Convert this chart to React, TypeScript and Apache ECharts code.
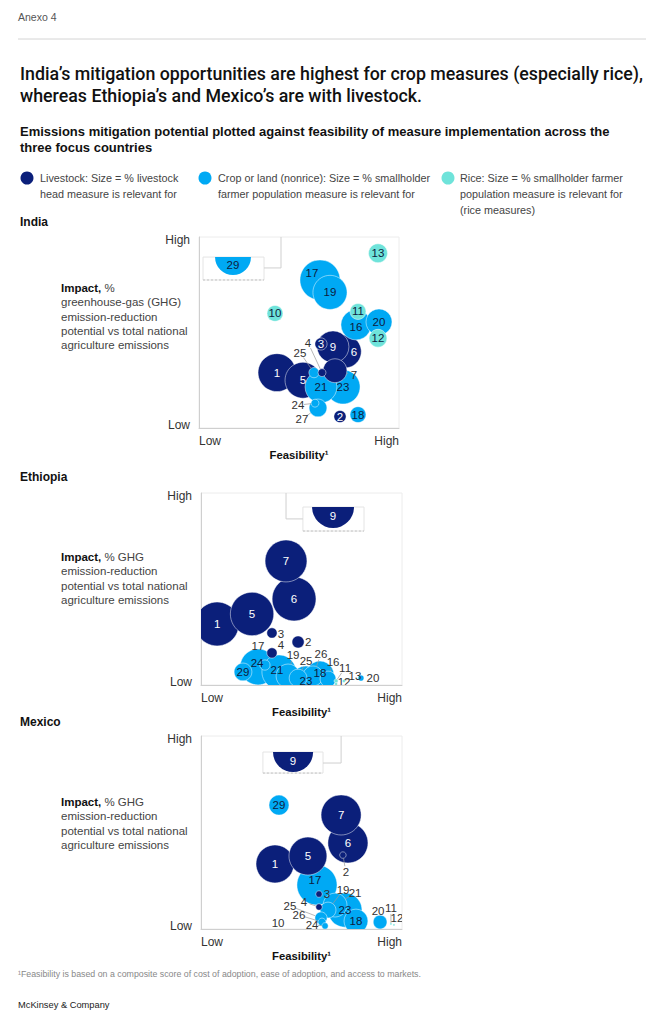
import React, { useEffect, useRef } from "react";
import * as echarts from "echarts";

const FONT = '"Liberation Sans", Arial, Helvetica, sans-serif';
const TITLE_FONT = 'Roboto, "Liberation Sans", Arial, sans-serif';
const NAVY = "#0B1F7A";
const CYAN = "#00A9F4";
const AQUA = "#6FE3DA";
const TEXT_DARK = "#0D1B3E";

// ---------- data ----------
const countries = ["India", "Ethiopia", "Mexico"];
const feasibilityTicks = ["Low", "High"];
const impactTicks = ["Low", "High"];
const livestockMeasures = [1, 2, 3, 4, 5, 6, 7, 8, 9];
const riceMeasures = [10, 11, 12, 13];

// India
const indiaIds = [1, 2, 3, 4, 5, 6, 7, 9, 10, 11, 12, 13, 16, 17, 18, 19, 20, 21, 23, 24, 25, 27];
const indiaFeasibility = [39, 70.5, 61, 61.5, 52, 73, 68, 67, 38, 79.5, 89.5, 89.5, 78.5, 60.5, 79.5, 65.5, 90, 61, 72, 58, 57.5, 59.5];
const indiaImpact = [29, 6, 44, 29, 25, 40, 30, 42.5, 60, 61, 47, 91.5, 54, 77.5, 7, 71, 55.5, 21.5, 21.5, 13, 29, 10.5];
const indiaShare = [68, 7, 7, 3, 61, 50, 27, 48, 12, 12, 15, 17, 43, 76, 12, 55, 32, 48, 55, 3, 5, 15];

// Ethiopia
const ethiopiaIds = [1, 2, 3, 4, 5, 6, 7, 11, 12, 13, 16, 17, 18, 19, 20, 21, 23, 24, 25, 26, 29];
const ethiopiaFeasibility = [8, 48.3, 35.3, 35.3, 25.4, 46.3, 42.3, 67.2, 67.2, 71.1, 63.2, 31.8, 59.2, 43.3, 79.6, 38.8, 52.2, 28.4, 48.3, 55.7, 20.9];
const ethiopiaImpact = [31.8, 22.4, 27.1, 16.7, 37, 44.8, 64.6, 2.1, 0.5, 2.1, 3.1, 10.4, 5.2, 4.7, 3.6, 6.8, 1.6, 9.4, 3.6, 4.7, 6.8];
const ethiopiaShare = [91, 7, 5, 5, 89, 91, 83, 0.8, 0.4, 0.4, 12, 5, 37, 27, 1.7, 55, 48, 61, 15, 19, 15];

// Mexico
const mexicoIds = [1, 2, 3, 4, 5, 6, 7, 10, 11, 12, 17, 18, 19, 20, 21, 23, 24, 25, 26, 29];
const mexicoFeasibility = [36.8, 70.6, 58.7, 58.7, 53.2, 73.1, 69.7, 47.3, 94.5, 96, 57.7, 77.1, 63.2, 89.1, 66.7, 71.6, 61.7, 59.7, 60.2, 38.8];
const mexicoImpact = [33.7, 38.3, 18.1, 11.4, 37.8, 44.6, 59.1, 0.5, 2.6, 2.1, 22.8, 4.1, 9.8, 3.6, 12.4, 9.8, 1.6, 5.7, 3.6, 64.2];
const mexicoShare = [68, 2, 2, 2, 68, 76, 76, 0.1, 0.2, 0.2, 76, 27, 12, 9, 27, 55, 2, 7, 3, 19];

// measures beyond the impact scale (shown in an inset)
const offScaleIds = [29, 9, 9];
const offScaleFeasibility = [17, 65.7, 45.8];
const offScaleShare = [61, 83, 76];

// ---------- layout ----------
const GRIDS = [
  { left: 199, top: 237, width: 200, height: 191 },
  { left: 201, top: 493, width: 201, height: 192 },
  { left: 201, top: 736, width: 201, height: 193 },
];
const INSETS = [
  { x0: 2, x1: 32.5, yTop: 89.5, yBottom: 77.5, elbow: [[32.5, 83.8], [41, 83.8], [41, 100]] },
  { x0: 50.7, x1: 81.1, yTop: 92.7, yBottom: 80.2, elbow: [[50.7, 86.5], [42.3, 86.5], [42.3, 100]] },
  { x0: 30.8, x1: 60.7, yTop: 91.7, yBottom: 80.8, elbow: [[60.7, 86], [69.7, 86], [69.7, 100]] },
];
// label offsets [dx, dy, mode] mode 0 = inside, 1 = outside with leader, 2 = outside no leader
const LABELS: Record<number, [number, number, number]>[] = [
  {
    4: [-14, -30, 1], 25: [-14, -20, 1], 7: [19, 4, 1], 24: [-17, 2, 1], 27: [-16, 11, 1],
    6: [9, 0, 0], 17: [-8, -7, 0], 16: [0, 2, 0],
  },
  {
    2: [10, 0, 2], 3: [9, 1, 2], 4: [9, -8, 2], 17: [-7, -19, 2], 19: [5, -21, 1], 25: [8, -17, 1],
    26: [8, -22, 1], 16: [5, -17, 1], 11: [9, -13, 1], 12: [8, -2, 2], 13: [11, -5, 1], 20: [12, 0, 2],
    24: [-1, -4, 0], 21: [-2, -2, 0], 18: [0, -2, 0], 23: [0, -1, 0],
  },
  {
    2: [3, 17, 1], 3: [8, 0, 2], 4: [-15, -5, 1], 17: [-2, -5, 0], 19: [15, -20, 1], 21: [20, -12, 1],
    25: [-31, -12, 1], 26: [-23, -7, 1], 24: [-13, -1, 1], 10: [-18, -5, 2], 20: [-2, -11, 2],
    11: [0, -16, 1], 12: [3, -7, 2],
  },
];

const radiusOf = (share: number) => 2.3 * Math.sqrt(share);
const colorOf = (id: number) =>
  livestockMeasures.includes(id) ? NAVY : riceMeasures.includes(id) ? AQUA : CYAN;
const textColorOf = (id: number) => (livestockMeasures.includes(id) ? "#ffffff" : TEXT_DARK);

function bubbleRender(ids: number[], labels: Record<number, [number, number, number]>) {
  return (params: any, api: any) => {
    const i = api.value(3);
    const id = ids[i];
    const c = api.coord([api.value(0), api.value(1)]);
    const cx = c[0], cy = c[1];
    const r = radiusOf(api.value(2));
    const off = labels[id] || [0, 0, 0];
    const children: any[] = [
      {
        type: "circle",
        shape: { cx, cy, r },
        style: { fill: colorOf(id), stroke: "rgba(255,255,255,0.6)", lineWidth: 0.8 },
        z2: 1,
      },
    ];
    const lx = cx + off[0], ly = cy + off[1];
    if (off[2] === 1) {
      const dx = cx - lx, dy = cy - ly;
      const d = Math.hypot(dx, dy);
      if (d > r + 6) {
        const ux = dx / d, uy = dy / d;
        children.push({
          type: "line",
          shape: { x1: lx + ux * 6, y1: ly + uy * 6, x2: cx - ux * r, y2: cy - uy * r },
          style: { stroke: "#9a9a9a", lineWidth: 0.7 },
          z2: 50,
        });
      }
    }
    const ext = off[2] > 0;
    children.push({
      type: "text",
      x: lx,
      y: ly,
      style: {
        text: String(id),
        fill: ext ? "#333333" : textColorOf(id),
        fontSize: 11.5,
        fontFamily: FONT,
        align: "center",
        verticalAlign: "middle",
        textAlign: "center",
        textVerticalAlign: "middle",
      },
      z2: 100,
    });
    return { type: "group", children };
  };
}

function insetRender(k: number) {
  return (params: any, api: any) => {
    const L = INSETS[k];
    const id = offScaleIds[k];
    const tl = api.coord([L.x0, L.yTop]);
    const br = api.coord([L.x1, L.yBottom]);
    const c = api.coord([api.value(0), L.yTop]);
    const r = radiusOf(api.value(2));
    const elbow = L.elbow.map((p) => api.coord(p));
    return {
      type: "group",
      children: [
        {
          type: "rect",
          shape: { x: tl[0], y: tl[1], width: br[0] - tl[0], height: br[1] - tl[1] },
          style: { fill: "#ffffff", stroke: "#e4e4e4", lineWidth: 1 },
          z2: 0,
        },
        {
          type: "line",
          shape: { x1: tl[0], y1: br[1], x2: br[0], y2: br[1] },
          style: { stroke: "#c4c4c4", lineWidth: 1, lineDash: [2, 2] },
          z2: 1,
        },
        {
          type: "polyline",
          shape: { points: elbow },
          style: { stroke: "#cfcfcf", lineWidth: 1, fill: null },
          z2: 1,
        },
        {
          type: "sector",
          shape: { cx: c[0], cy: c[1], r0: 0, r, startAngle: 0, endAngle: Math.PI, clockwise: true },
          style: { fill: colorOf(id) },
          z2: 2,
        },
        {
          type: "text",
          x: c[0],
          y: c[1] + r * 0.45,
          style: {
            text: String(id),
            fill: textColorOf(id),
            fontSize: 11.5,
            fontFamily: FONT,
            align: "center",
            verticalAlign: "middle",
            textAlign: "center",
            textVerticalAlign: "middle",
          },
          z2: 100,
        },
      ],
    };
  };
}

const COUNTRY_DATA = [
  { ids: indiaIds, x: indiaFeasibility, y: indiaImpact, s: indiaShare },
  { ids: ethiopiaIds, x: ethiopiaFeasibility, y: ethiopiaImpact, s: ethiopiaShare },
  { ids: mexicoIds, x: mexicoFeasibility, y: mexicoImpact, s: mexicoShare },
];

function txt(x: number, y: number, text: string, o: any = {}) {
  return {
    type: "text",
    x,
    y,
    silent: true,
    style: {
      text,
      fill: o.fill || "#222",
      fontSize: o.fontSize || 10,
      fontWeight: o.fontWeight || "normal",
      fontFamily: o.fontFamily || FONT,
      lineHeight: o.lineHeight,
      rich: o.rich,
      align: o.align || "left",
      textAlign: o.align || "left",
      verticalAlign: o.va || "middle",
      textVerticalAlign: o.va || "middle",
    },
  };
}

const impactRich = {
  b: { fontWeight: "bold", fontSize: 11.5, fontFamily: FONT, fill: "#111", lineHeight: 14.3 },
};
const IMPACT_TEXT = [
  "{b|Impact,} %\ngreenhouse-gas (GHG)\nemission-reduction\npotential vs total national\nagriculture emissions",
  "{b|Impact,} % GHG\nemission-reduction\npotential vs total national\nagriculture emissions",
  "{b|Impact,} % GHG\nemission-reduction\npotential vs total national\nagriculture emissions",
];
const IMPACT_TOP = [281, 550, 795];
const COUNTRY_Y = [222, 477, 722];

function buildOption() {
  const graphic: any[] = [
    txt(18, 17, "Anexo 4", { fill: "#555", fontSize: 10.5 }),
    { type: "line", shape: { x1: 18, y1: 39, x2: 646, y2: 39 }, style: { stroke: "#d4d4d4", lineWidth: 1 } },
    txt(20, 73, "India’s mitigation opportunities are highest for crop measures (especially rice),", { fontSize: 17.8, fontWeight: 500, fill: "#111", fontFamily: TITLE_FONT }),
    txt(20, 95, "whereas Ethiopia’s and Mexico’s are with livestock.", { fontSize: 17.8, fontWeight: 500, fill: "#111", fontFamily: TITLE_FONT }),
    txt(20, 131, "Emissions mitigation potential plotted against feasibility of measure implementation across the", { fontSize: 13, fontWeight: "bold", fill: "#111" }),
    txt(20, 147, "three focus countries", { fontSize: 13, fontWeight: "bold", fill: "#111" }),
    { type: "circle", shape: { cx: 27, cy: 178, r: 6.5 }, style: { fill: NAVY } },
    { type: "circle", shape: { cx: 205, cy: 178, r: 6.5 }, style: { fill: CYAN } },
    { type: "circle", shape: { cx: 448, cy: 178, r: 6.5 }, style: { fill: AQUA } },
    txt(40, 170, "Livestock: Size = % livestock\nhead measure is relevant for", { va: "top", lineHeight: 16, fill: "#444", fontSize: 10.8 }),
    txt(218, 170, "Crop or land (nonrice): Size = % smallholder\nfarmer population measure is relevant for", { va: "top", lineHeight: 16, fill: "#444", fontSize: 10.8 }),
    txt(460, 170, "Rice: Size = % smallholder farmer\npopulation measure is relevant for\n(rice measures)", { va: "top", lineHeight: 16, fill: "#444", fontSize: 10.8 }),
    txt(18, 974, "¹Feasibility is based on a composite score of cost of adoption, ease of adoption, and access to markets.", { fontSize: 8.8, fill: "#888" }),
    txt(18, 1005, "McKinsey & Company", { fontSize: 9.3, fill: "#222" }),
  ];
  countries.forEach((name, k) => {
    graphic.push(txt(20, COUNTRY_Y[k], name, { fontSize: 12, fontWeight: "bold", fill: "#111" }));
    graphic.push(txt(61, IMPACT_TOP[k], IMPACT_TEXT[k], { va: "top", lineHeight: 14.3, rich: impactRich, fill: "#444", fontSize: 11.5 }));
  });

  const series: any[] = [];
  COUNTRY_DATA.forEach((cd, k) => {
    const data = cd.ids
      .map((id, i) => [cd.x[i], cd.y[i], cd.s[i], i])
      .sort((a, b) => b[2] - a[2]);
    series.push({
      type: "custom",
      xAxisIndex: k,
      yAxisIndex: k,
      clip: true,
      silent: true,
      renderItem: bubbleRender(cd.ids, LABELS[k]),
      data,
      z: 3,
    });
    series.push({
      type: "custom",
      xAxisIndex: k,
      yAxisIndex: k,
      clip: true,
      silent: true,
      renderItem: insetRender(k),
      data: [[offScaleFeasibility[k], INSETS[k].yTop, offScaleShare[k], k]],
      z: 2,
    });
  });

  return {
    animation: false,
    backgroundColor: "#ffffff",
    textStyle: { fontFamily: FONT },
    grid: GRIDS.map((g) => ({ ...g, show: true, borderColor: "#ececec", borderWidth: 1, backgroundColor: "transparent" })),
    xAxis: GRIDS.map((g, k) => ({
      gridIndex: k,
      type: "value",
      min: 0,
      max: 100,
      interval: 100,
      axisLine: { show: true, onZero: false, lineStyle: { color: "#cfcfcf", width: 1 } },
      axisTick: { show: false },
      splitLine: { show: false },
      axisLabel: {
        formatter: (v: number) => (v === 0 ? feasibilityTicks[0] : feasibilityTicks[1]),
        alignMinLabel: "left",
        alignMaxLabel: "right",
        color: "#333",
        fontSize: 12,
        fontFamily: FONT,
        margin: 7,
      },
      name: "Feasibility¹",
      nameLocation: "middle",
      nameGap: 21,
      nameTextStyle: { fontWeight: "bold", fontSize: 11.3, color: "#111", fontFamily: FONT },
    })),
    yAxis: GRIDS.map((g, k) => ({
      gridIndex: k,
      type: "value",
      min: 0,
      max: 100,
      interval: 100,
      axisLine: { show: true, onZero: false, lineStyle: { color: "#cfcfcf", width: 1 } },
      axisTick: { show: false },
      splitLine: { show: false },
      axisLabel: {
        formatter: (v: number) => (v === 0 ? "{lo|" + impactTicks[0] + "}" : "{hi|" + impactTicks[1] + "}"),
        rich: {
          hi: { padding: [6, 0, 0, 0], fontSize: 12, color: "#333", fontFamily: FONT },
          lo: { padding: [0, 0, 6, 0], fontSize: 12, color: "#333", fontFamily: FONT },
        },
        color: "#333",
        fontSize: 12,
        fontFamily: FONT,
        margin: 9,
      },
    })),
    graphic,
    series,
  };
}

export default function App() {
  const ref = useRef<HTMLDivElement>(null);
  useEffect(() => {
    if (!ref.current) return;
    const chart = echarts.init(ref.current, null, { renderer: "svg" });
    chart.setOption(buildOption() as any);
    return () => chart.dispose();
  }, []);
  return (
    <div
      ref={ref}
      style={{ position: "absolute", left: 0, top: 0, width: 665, height: 1024, background: "#fff" }}
    />
  );
}
